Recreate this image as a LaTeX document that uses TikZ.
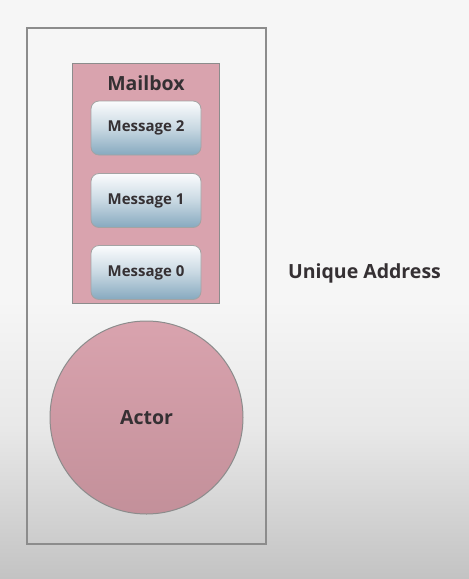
\documentclass[tikz,border=0pt]{standalone}
\usepackage{fontspec}
\setmainfont{Open Sans}
\usetikzlibrary{shapes.geometric}
\definecolor{bgtop}{HTML}{F6F6F6}
\definecolor{bgmid}{HTML}{E8E8E8}
\definecolor{bgbot}{HTML}{C3C3C3}
\definecolor{framec}{HTML}{8C8C8C}
\definecolor{pinkc}{HTML}{D9A3AE}
\definecolor{pinkd}{HTML}{C3909A}
\definecolor{msgtop}{HTML}{FBFCFD}
\definecolor{msgbot}{HTML}{86A9BF}
\definecolor{txtc}{HTML}{353033}
\tikzset{
  frame/.style={draw=framec, line width=1.2pt, rectangle, inner sep=0pt},
  msgbox/.style={rectangle, rounded corners=8pt, minimum width=110pt, minimum height=54pt,
    draw=framec!80, line width=0.8pt, top color=msgtop, bottom color=msgbot, middle color=msgbot!45,
    text=txtc, font=\bfseries\fontsize{15}{17}\selectfont},
  lbl/.style={text=txtc, font=\bfseries\fontsize{19.5}{22}\selectfont}
}
\begin{document}
\begin{tikzpicture}[x=1pt,y=-1pt]
\useasboundingbox (0,0) rectangle (469,579);
\fill[bgtop] (0,0) rectangle (469,300);
\shade[top color=bgtop, bottom color=bgmid] (0,299.5) rectangle (469,430);
\shade[top color=bgmid, bottom color=bgbot] (0,429.5) rectangle (469,579);
\node[frame, minimum width=239pt, minimum height=516pt] (outer) at (146.5,286) {};
\node[frame, fill=pinkc, line width=1pt, minimum width=147pt, minimum height=240pt] (mailbox) at (145.5,183) {};
\node[lbl] (mbl) at (146,83) {Mailbox};
\node[msgbox] (m2) at (146,128) {Message 2};
\node[msgbox] (m1) at (146,200.5) {Message 1};
\node[msgbox] (m0) at (146,272.5) {Message 0};
\node[circle, draw=framec, line width=1pt, top color=pinkc, bottom color=pinkd, minimum size=193pt, inner sep=0pt] (actor) at (146.5,417.5) {};
\node[lbl] (actl) at (146.5,418) {Actor};
\node[lbl] (addr) at (364.5,273) {Unique Address};
\end{tikzpicture}
\end{document}
